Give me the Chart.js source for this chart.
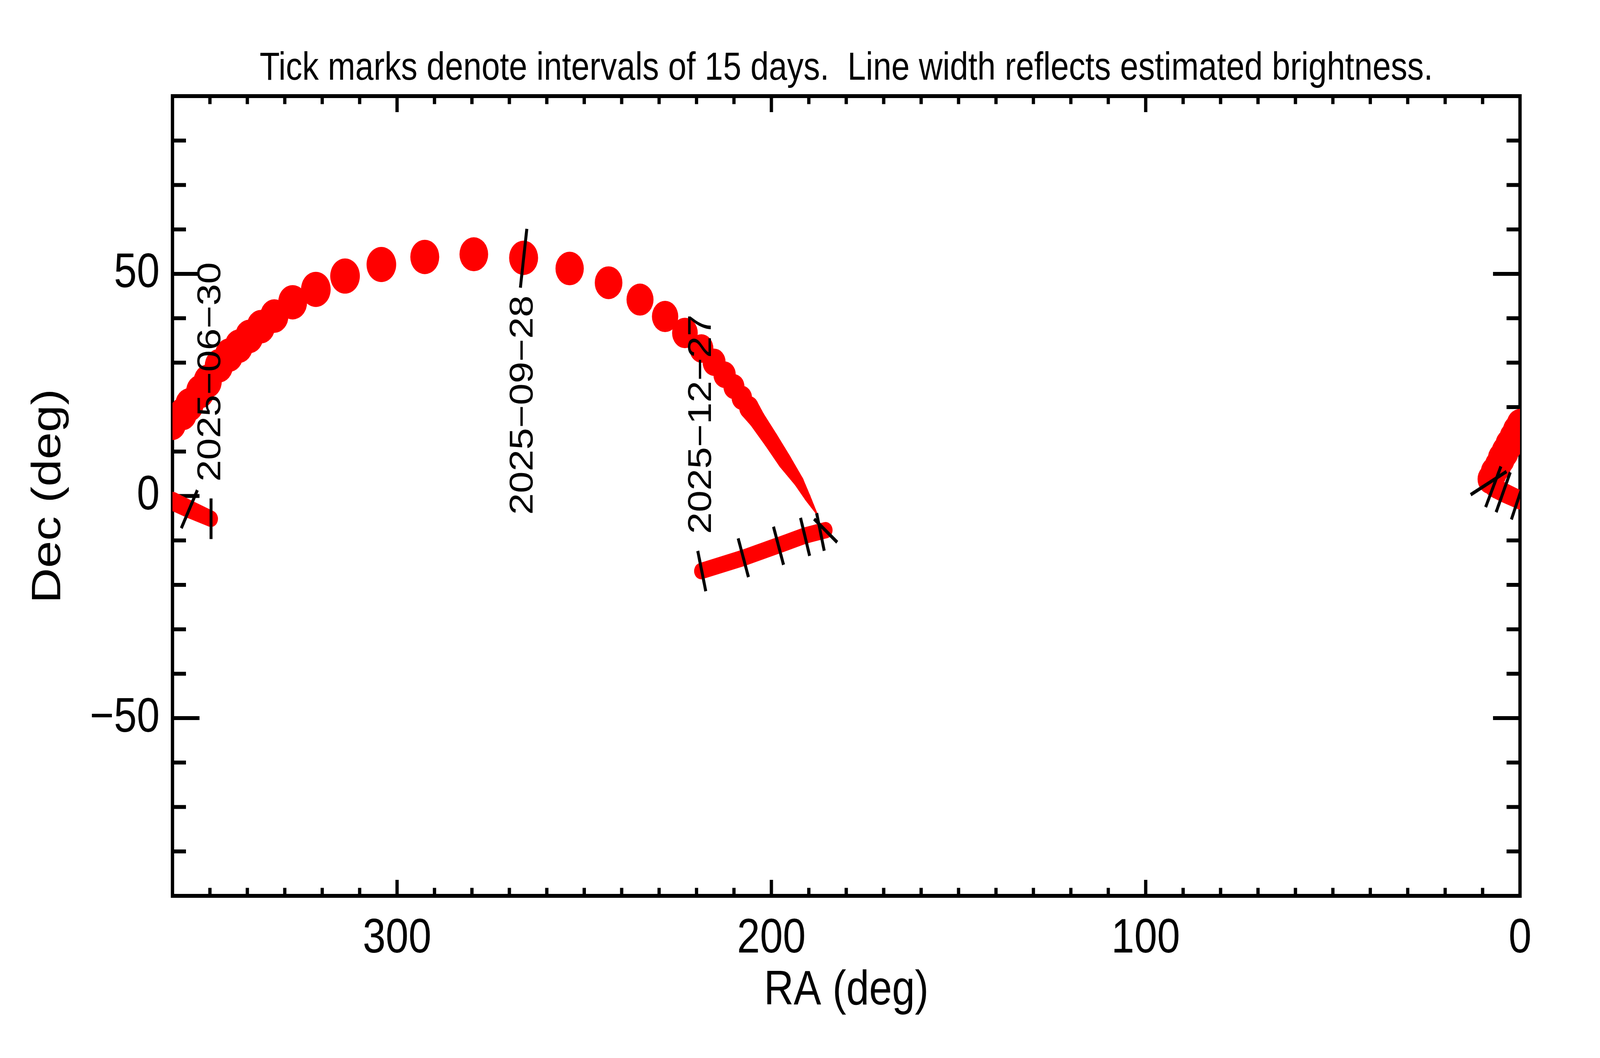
<!DOCTYPE html>
<html>
<head>
<meta charset="utf-8">
<title>Track on the sky</title>
<script src="https://cdn.jsdelivr.net/npm/chart.js@4.4.1/dist/chart.umd.min.js"></script>
<style>
	html, body { margin: 0; padding: 0; background: #fff; overflow: hidden; }
	canvas { display: block; }
</style>
</head>
<body>
<canvas id="chart-canvas" width="4861" height="2708"></canvas>
<script>
'use strict';

var TITLE = 'Tick marks denote intervals of 15 days.  Line width reflects estimated brightness.';
var X_TICKS = [0, 100, 200, 300];
var Y_TICKS = [-50, 0, 50];

// faint start of the track (left edge, runs off at RA 360)
var EARLY_A_RA  = [349.7, 355.5, 360.0];
var EARLY_A_DEC = [-5.13, -2.96, -1.16];
var EARLY_A_MAG = [17.9, 17.7, 17.6];

// same faint part after wrapping past RA 0, up to the first turn
var EARLY_B_RA  = [0.0, 4.5, 7.15, 8.0];
var EARLY_B_DEC = [-0.92, 0.84, 2.07, 3.18];
var EARLY_B_MAG = [17.6, 17.5, 17.4, 17.3];

// bright band leaving the turn, right edge
var BAND_RA  = [8.0, 7.0, 5.9, 5.0, 4.0, 3.0, 1.9, 1.0, 0.0];
var BAND_DEC = [3.8, 5.3, 6.8, 8.4, 9.9, 11.5, 13.1, 14.6, 16.0];
var BAND_MAG = [16.2, 16.0, 16.0, 15.9, 15.9, 15.9, 15.9, 15.9, 15.9];

// bright arc, one dot per position
var ARC_RA  = [360.0, 357.2, 355.5, 352.6, 350.6, 347.6, 344.9, 342.3, 339.5, 336.4, 332.8, 327.9,
	321.7, 313.9, 304.2, 292.6, 279.5, 266.2, 253.9, 243.5, 235.1, 228.4, 223.1, 218.7,
	215.3, 212.5, 210.0, 207.9, 206.0];
var ARC_DEC = [16.2, 18.5, 20.5, 23.5, 25.8, 29.3, 31.7, 33.7, 35.9, 38.1, 40.5, 43.6,
	46.5, 49.5, 52.1, 53.8, 54.4, 53.6, 51.2, 48.0, 44.2, 40.4, 36.7, 33.2,
	30.1, 27.3, 24.6, 22.1, 19.9];
var ARC_MAG = [15.9, 15.8, 15.7, 15.7, 15.7, 15.7, 15.7, 15.7, 15.7, 15.7, 15.7, 15.6,
	15.5, 15.5, 15.5, 15.6, 15.65, 15.6, 15.7, 15.8, 15.9, 16.0, 16.1, 16.35,
	16.5, 16.6, 16.8, 16.9, 17.05];

// fading tail down to the second turn
var TAIL_RA  = [206.0, 203.9, 200.1, 196.5, 192.7, 190.3, 187.8];
var TAIL_DEC = [19.9, 17.35, 12.6, 7.9, 3.3, -0.4, -4.1];
var TAIL_MAG = [17.05, 17.5, 17.72, 17.9, 18.5, 19.05, 19.8];

// faint end of the track
var LATE_RA  = [185.5, 191.0, 198.1, 207.4, 218.8];
var LATE_DEC = [-7.7, -8.9, -11.1, -13.9, -16.9];
var LATE_MAG = [17.9, 17.9, 17.9, 17.9, 17.9];

// 15 day marks: position, direction of the mark (deg), brightness there
var TICK_DATES = ['2025-06-30', '2025-07-15', '2025-07-30', '2025-08-14', '2025-08-29', '2025-09-13',
	'2025-09-28', '2025-10-13', '2025-10-28', '2025-11-12', '2025-11-27', '2025-12-12', '2025-12-27'];
var TICK_RA    = [349.7, 355.5, 0.5, 4.5, 7.15, 8.4, 266.2, 185.5, 186.9, 191.0, 198.1, 207.5, 218.6];
var TICK_DEC   = [-5.13, -2.96, -0.7, 0.84, 2.07, 2.9, 53.5, -7.8, -8.1, -9.2, -11.2, -13.9, -16.9];
var TICK_ANGLE = [90, 63.4, 68.5, 67.2, 66.0, 28.6, 82.6, -40.4, 103.4, 105.9, 107.4, 107.5, 103.3];
var TICK_MAG   = [18.0, 17.75, 17.6, 17.65, 17.5, 17.0, 15.6, 18.6, 18.25, 18.15, 18.1, 18.0, 17.9];

var TRACK_COLOR = '#ff0000';
var FONT        = "'Liberation Sans', Arial, Helvetica, sans-serif";
var MAG_FAINT   = 20;
var PX_PER_MAG  = 10;
var AXIS_WIDTH  = 10;
var X_TICK_LEN  = 41;
var Y_TICK_LEN  = 82;
var MARK_WIDTH  = 9;
var MARK_EXTRA  = 32;
var LABEL_GAP   = 95;

function radius(mag) {
	return Math.max(0, (MAG_FAINT - mag) * PX_PER_MAG);
}

function minus(v) {
	return v < 0 ? '\u2212' + Math.abs(v) : String(v);
}

function track(ra, dec, mag, joined) {
	var r = function(ctx) { return radius(mag[ctx.dataIndex]); };
	return {
		data: ra.map(function(v, i) { return {x: v, y: dec[i]}; }),
		mag: mag,
		joined: joined,
		showLine: false,
		clip: 0,
		pointRadius: r,
		pointHoverRadius: r,
		pointBackgroundColor: TRACK_COLOR,
		pointBorderColor: TRACK_COLOR,
		pointBorderWidth: 0
	};
}

// fills the outer tangents between two neighbouring circles
function hull(ctx, x0, y0, r0, x1, y1, r1) {
	var dx = x1 - x0, dy = y1 - y0;
	var d = Math.sqrt(dx * dx + dy * dy);
	if (d <= Math.abs(r0 - r1)) return;
	var t = Math.atan2(dy, dx);
	var a = Math.acos((r0 - r1) / d);
	ctx.beginPath();
	ctx.moveTo(x0 + r0 * Math.cos(t + a), y0 + r0 * Math.sin(t + a));
	ctx.lineTo(x1 + r1 * Math.cos(t + a), y1 + r1 * Math.sin(t + a));
	ctx.lineTo(x1 + r1 * Math.cos(t - a), y1 + r1 * Math.sin(t - a));
	ctx.lineTo(x0 + r0 * Math.cos(t - a), y0 + r0 * Math.sin(t - a));
	ctx.closePath();
	ctx.fill();
}

var framePlugin = {
	id: 'frame',
	beforeDatasetsDraw: function(chart) {
		var ctx = chart.ctx, a = chart.chartArea;
		var xs = chart.scales.x, ys = chart.scales.y;
		var v, p, len;

		ctx.save();
		ctx.strokeStyle = '#000';
		ctx.lineWidth = AXIS_WIDTH;
		ctx.lineCap = 'butt';
		ctx.beginPath();
		for (v = 10; v < 360; v += 10) {
			p = xs.getPixelForValue(v);
			len = (v % 100 === 0) ? X_TICK_LEN : X_TICK_LEN / 2;
			ctx.moveTo(p, a.bottom); ctx.lineTo(p, a.bottom - len);
			ctx.moveTo(p, a.top);    ctx.lineTo(p, a.top + len);
		}
		for (v = -80; v < 90; v += 10) {
			p = ys.getPixelForValue(v);
			len = (v % 50 === 0) ? Y_TICK_LEN : Y_TICK_LEN / 2;
			ctx.moveTo(a.left, p);  ctx.lineTo(a.left + len, p);
			ctx.moveTo(a.right, p); ctx.lineTo(a.right - len, p);
		}
		ctx.stroke();
		ctx.strokeRect(a.left, a.top, a.right - a.left, a.bottom - a.top);
		ctx.restore();
	}
};

var marksPlugin = {
	id: 'marks',
	afterDatasetsDraw: function(chart) {
		var ctx = chart.ctx, a = chart.chartArea;
		var xs = chart.scales.x, ys = chart.scales.y;

		ctx.save();
		ctx.beginPath();
		ctx.rect(a.left, a.top, a.right - a.left, a.bottom - a.top);
		ctx.clip();

		// close up the continuous parts of the track
		ctx.fillStyle = TRACK_COLOR;
		chart.data.datasets.forEach(function(ds, i) {
			if (!ds.joined) return;
			var pts = chart.getDatasetMeta(i).data;
			for (var j = 0; j < pts.length - 1; j++) {
				hull(ctx, pts[j].x, pts[j].y, radius(ds.mag[j]),
					pts[j + 1].x, pts[j + 1].y, radius(ds.mag[j + 1]));
			}
		});

		// the 15 day marks
		ctx.strokeStyle = '#000';
		ctx.lineWidth = MARK_WIDTH;
		ctx.lineCap = 'butt';
		ctx.beginPath();
		TICK_RA.forEach(function(ra, i) {
			var x = xs.getPixelForValue(ra);
			var y = ys.getPixelForValue(TICK_DEC[i]);
			var ang = TICK_ANGLE[i] * Math.PI / 180;
			var half = radius(TICK_MAG[i]) + MARK_EXTRA;
			var dx = Math.cos(ang) * half, dy = -Math.sin(ang) * half;
			ctx.moveTo(x - dx, y - dy);
			ctx.lineTo(x + dx, y + dy);
		});
		ctx.stroke();
		ctx.restore();

		// every sixth mark gets its date, written upwards, on the side toward Dec 0
		ctx.save();
		ctx.fillStyle = '#000';
		ctx.font = '100px ' + FONT;
		ctx.textBaseline = 'middle';
		TICK_DATES.forEach(function(date, i) {
			if (i % 6 !== 0) return;
			var x = xs.getPixelForValue(TICK_RA[i]);
			var y = ys.getPixelForValue(TICK_DEC[i]);
			var below = TICK_DEC[i] > 0;
			ctx.save();
			ctx.translate(x, below ? y + LABEL_GAP : y - LABEL_GAP);
			ctx.rotate(-Math.PI / 2);
			ctx.textAlign = below ? 'right' : 'left';
			ctx.fillText(date.replace(/-/g, '\u2212'), 0, 0);
			ctx.restore();
		});
		ctx.restore();
	}
};

// the figure is laid out at 4861 x 2708 and shown over the whole window
var canvas = document.getElementById('chart-canvas');
canvas.style.width = window.innerWidth + 'px';
canvas.style.height = window.innerHeight + 'px';

Chart.defaults.font.family = FONT;
Chart.defaults.color = '#000';

var myChart = new Chart(canvas, {
	type: 'scatter',
	data: {
		datasets: [
			track(EARLY_A_RA, EARLY_A_DEC, EARLY_A_MAG, true),
			track(EARLY_B_RA, EARLY_B_DEC, EARLY_B_MAG, true),
			track(BAND_RA, BAND_DEC, BAND_MAG, false),
			track(ARC_RA, ARC_DEC, ARC_MAG, false),
			track(TAIL_RA, TAIL_DEC, TAIL_MAG, true),
			track(LATE_RA, LATE_DEC, LATE_MAG, true)
		]
	},
	options: {
		responsive: false,
		devicePixelRatio: 1,
		animation: false,
		events: [],
		layout: { padding: { left: 0, right: 243, top: 0, bottom: 0 } },
		plugins: {
			legend: { display: false },
			tooltip: { enabled: false },
			title: {
				display: true,
				text: TITLE,
				fullSize: false,
				color: '#000',
				font: { size: 100, weight: 'normal', family: FONT },
				padding: { top: 116, bottom: 10 }
			}
		},
		scales: {
			x: {
				type: 'linear',
				min: 0,
				max: 360,
				reverse: true,
				grid: { display: false, drawTicks: false },
				border: { display: false },
				ticks: { font: { size: 125 }, padding: 36, maxRotation: 0, autoSkip: false, callback: minus },
				title: { display: true, text: 'RA (deg)', font: { size: 125 }, padding: { top: 0, bottom: 96 } },
				afterBuildTicks: function(scale) {
					scale.ticks = X_TICKS.map(function(v) { return {value: v}; });
				},
				afterFit: function(scale) { scale.height = 415; }
			},
			y: {
				type: 'linear',
				min: -90,
				max: 90,
				grid: { display: false, drawTicks: false },
				border: { display: false },
				ticks: { font: { size: 125 }, padding: 39, callback: minus },
				title: { display: true, text: 'Dec (deg)', font: { size: 125 }, padding: { top: 74, bottom: 0 } },
				afterBuildTicks: function(scale) {
					scale.ticks = Y_TICKS.map(function(v) { return {value: v}; });
				},
				afterFit: function(scale) { scale.width = 524; }
			}
		}
	},
	plugins: [framePlugin, marksPlugin]
});
</script>
</body>
</html>
